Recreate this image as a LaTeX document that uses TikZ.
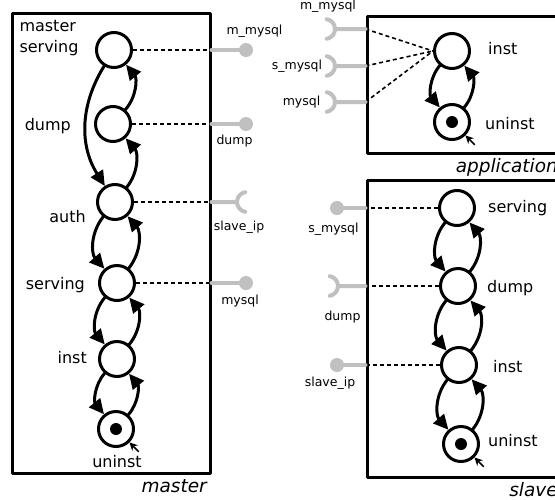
\documentclass[tikz,border=0pt]{standalone}
\usepackage{fontspec}
\setmainfont{DejaVu Sans}
\usetikzlibrary{arrows.meta}
\definecolor{portgray}{RGB}{192,192,192}
\begin{document}
\begin{tikzpicture}[x=1pt, y=1pt, >={Triangle[length=15pt,width=14pt]}, line join=round, line cap=round,
	font=\fontsize{16}{21}\selectfont,
	state/.style={circle, draw, line width=3pt, minimum size=35pt, inner sep=0pt},
	endstate/.style={state, path picture={\fill (path picture bounding box.center) circle (6pt);}},
	box/.style={draw, line width=3pt, inner sep=0pt},
	wire/.style={dash pattern=on 4pt off 3pt, line width=1.6pt, line cap=butt},
	port/.style={portgray, line width=4pt},
	entry/.style={-{Stealth[length=8pt,width=8pt,inset=2.5pt]}, line width=1.6pt},
	statename/.style={inner sep=0pt},
	portname/.style={inner sep=0pt, anchor=base, font=\fontsize{12.5}{14}\selectfont},
	boxname/.style={inner sep=0pt, anchor=base east, font=\fontsize{18.5}{22}\selectfont\itshape}]
	\useasboundingbox (0,0) rectangle (555,-499);
	\clip (0,0) rectangle (555,-499);
	% boxes
	\node [box, minimum width=198pt, minimum height=460pt] (master) at (111,-243) {};
	\node [box, minimum width=194pt, minimum height=137pt] (application) at (464,-84.5) {};
	\node [box, minimum width=194pt, minimum height=297pt] (slave) at (464,-328.5) {};
	\foreach \bx in {master,application,slave}{
		\node [boxname] (\bx-name) at ([shift={(-4.5,-17.5)}]\bx.south east) {\bx};
	}
	% states
	\foreach \n/\x/\y in {ms/114/50, md/113/124, ma/115/202, mv/117/283, mi/117/359,
		ai/452/51, ss/457/208, sd/458/286, si/459/365}{
		\node [state] (\n) at (\x,-\y) {};
	}
	\foreach \n/\x/\y in {mu/116/429, au/452/122, su/461/444}{
		\node [endstate] (\n) at (\x,-\y) {};
		\path (\n.-45) ++(-45:13) coordinate (\n-in);
		\draw [entry] (\n-in) -- (\n);
	}
	\node [statename, align=left] (ms-name) at (49,-38.5) {master\\serving};
	\foreach \n/\t/\x/\y in {md/dump/71/130, ma/auth/86/222, mv/serving/85/289, mi/inst/87/363}{
		\node [statename, anchor=base east] (\n-name) at (\x,-\y) {\t};
	}
	\foreach \n/\t/\x/\y in {ai/inst/488/54, au/uninst/485/129, ss/serving/488/212,
		sd/dump/487/292, si/inst/493/372, su/uninst/488/446}{
		\node [statename, anchor=base west] (\n-name) at (\x,-\y) {\t};
	}
	\node [statename, anchor=base] (mu-name) at (117,-467) {uninst};
	% transitions
	\foreach \a/\b in {md/ms, ma/md, ma/mv, mv/ma, mv/mi, mi/mv, mi/mu, mu/mi,
		ai/au, au/ai, ss/sd, sd/ss, sd/si, si/sd, si/su, su/si}{
		\draw [->, line width=3pt] (\a) to [bend right=40] (\b);
	}
	\draw [->, line width=3pt] (ms) to [bend right=32] (ma);
	% provided ports
	\foreach \s/\e/\x in {ms/master.east/246, md/master.east/246, mv/master.east/246,
		ss/slave.west/337, si/slave.west/337}{
		\draw [wire] (\s) -- (\e |- \s);
		\draw [port] (\e |- \s) -- (\x,0 |- \s) coordinate (\s-ball);
		\fill [portgray] (\s-ball) circle (7pt);
	}
	% required ports
	\foreach \s/\e/\x/\a in {ma/master.east/237/180, sd/slave.west/338/0}{
		\draw [wire] (\s) -- (\e |- \s);
		\draw [port] (\e |- \s) -- (\x,0 |- \s) coordinate (\s-cup)
			arc [start angle=\a, delta angle=80, radius=10pt]
			(\s-cup) arc [start angle=\a, delta angle=-80, radius=10pt];
	}
	\foreach \n/\y in {am/29, as/66, ay/102}{
		\coordinate (\n) at (application.west |- 0,-\y);
		\draw [wire] (\n) -- (ai.west);
		\draw [port] (\n) -- (335,-\y) coordinate (\n-cup)
			arc [start angle=0, delta angle=80, radius=10pt]
			(\n-cup) arc [start angle=0, delta angle=-80, radius=10pt];
	}
	% port names
	\foreach \n/\t/\x/\y in {ms-port/m\_mysql/254.5/34, md-port/dump/234.5/144,
		ma-port/slave\_ip/239/230, mv-port/mysql/240/304,
		am-port/m\_mysql/328/9, as-port/s\_mysql/297/69.5, ay-port/mysql/301.5/105.5,
		ss-port/s\_mysql/333.5/232, sd-port/dump/342.5/320, si-port/slave\_ip/330/386}{
		\node [portname] (\n) at (\x,-\y) {\t};
	}
\end{tikzpicture}
\end{document}
